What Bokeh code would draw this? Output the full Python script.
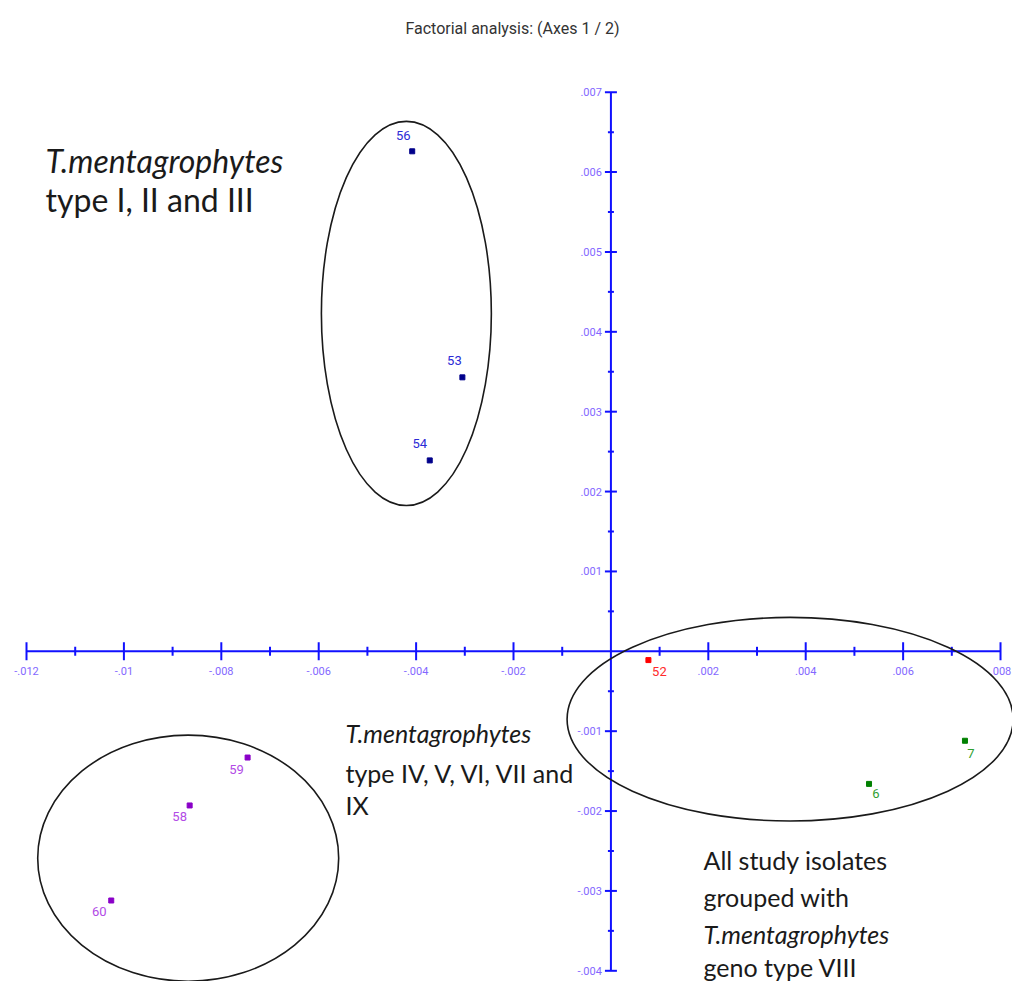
from bokeh.plotting import figure
from bokeh.models import Range1d, ColumnDataSource
from bokeh.core.properties import value
from bokeh.embed import file_html
from bokeh.resources import INLINE

# ---------------- data ----------------
ids = ["56", "53", "54", "52", "6", "7", "59", "58", "60"]
xs = [-0.00408, -0.00305, -0.00372, 0.00077, 0.00530, 0.00727, -0.00746, -0.00865, -0.01026]
ys = [0.00626, 0.00343, 0.00239, -0.00011, -0.00166, -0.00112, -0.00133, -0.00193, -0.00312]
dot_colors = ["#00008b", "#00008b", "#00008b", "#ff0000", "#008000", "#008000", "#8a00c8", "#8a00c8", "#8a00c8"]
lab_colors = ["#2b2bd6", "#2b2bd6", "#2b2bd6", "#ff2a2a", "#30a030", "#30a030", "#b24be6", "#b24be6", "#b24be6"]
lab_dx = [-9, -8, -10, 11, 7, 6, -11, -10, -12]
lab_dy = [-16, -17, -17, 11, 10, 13, 12, 11, 11]

x_ticks = [-0.012, -0.010, -0.008, -0.006, -0.004, -0.002, 0.002, 0.004, 0.006, 0.008]
x_tick_labels = ["-.012", "-.01", "-.008", "-.006", "-.004", "-.002", ".002", ".004", ".006", ".008"]
x_minor = [-0.011, -0.009, -0.007, -0.005, -0.003, -0.001, 0.001, 0.003, 0.005, 0.007]
y_ticks = [0.007, 0.006, 0.005, 0.004, 0.003, 0.002, 0.001, -0.001, -0.002, -0.003, -0.004]
y_tick_labels = [".007", ".006", ".005", ".004", ".003", ".002", ".001", "-.001", "-.002", "-.003", "-.004"]
y_minor = [0.0065, 0.0055, 0.0045, 0.0035, 0.0025, 0.0015, 0.0005, -0.0005, -0.0015, -0.0025, -0.0035]

# group ellipses (center x, center y, width, height)
ell_x = [-0.00420, 0.00368, -0.00868]
ell_y = [0.00423, -0.00085, -0.00259]
ell_w = [0.00349, 0.00916, 0.00618]
ell_h = [0.00481, 0.00255, 0.00308]

TITLE = "Factorial analysis: (Axes 1 / 2)"

# ---------------- figure ----------------
W, H = 1012, 981
X0, X1 = -0.012534, 0.008246
Y0, Y1 = -0.004134, 0.008148
sx = W / (X1 - X0)
sy = H / (Y1 - Y0)

def px(v):
    return X0 + v / sx

def py(v):
    return Y1 - v / sy

p = figure(width=W, height=H, output_backend="svg", toolbar_location=None,
           x_range=Range1d(X0, X1), y_range=Range1d(Y0, Y1),
           x_axis_location=None, y_axis_location=None, min_border=0)
p.grid.visible = False
p.outline_line_color = None
p.background_fill_color = "white"
p.border_fill_color = "white"

NARROW = value("Roboto")
AX = "#1010ff"
TICKC = "#8468ff"

# axes lines
p.segment(x0=[x_ticks[0]], y0=[0], x1=[x_ticks[-1]], y1=[0], line_color=AX, line_width=2)
p.segment(x0=[0], y0=[y_ticks[-1]], x1=[0], y1=[y_ticks[0]], line_color=AX, line_width=2)
# ticks
p.scatter(x=x_ticks, y=[0] * len(x_ticks), marker="dash", angle=1.5708, size=18, line_color=AX, line_width=2)
p.scatter(x=x_minor, y=[0] * len(x_minor), marker="dash", angle=1.5708, size=9, line_color=AX, line_width=2)
p.scatter(x=[0] * len(y_ticks), y=y_ticks, marker="dash", size=12, line_color=AX, line_width=2)
p.scatter(x=[0] * len(y_minor), y=y_minor, marker="dash", size=6, line_color=AX, line_width=2)
# tick labels
p.text(x=x_ticks, y=[0] * len(x_ticks), text=x_tick_labels, text_align="center", text_baseline="middle",
       y_offset=20, text_font=NARROW, text_font_size="11px", text_color=TICKC)
p.text(x=[0] * len(y_ticks), y=y_ticks, text=y_tick_labels, text_align="right", text_baseline="middle",
       x_offset=-9, text_font=NARROW, text_font_size="11px", text_color=TICKC)

# ellipses
p.ellipse(x=ell_x, y=ell_y, width=ell_w, height=ell_h, fill_color=None, line_color="#1a1a1a", line_width=1.6)

# points and labels
src = ColumnDataSource(dict(x=xs, y=ys, id=ids, dc=dot_colors, lc=lab_colors, dx=lab_dx, dy=lab_dy))
p.scatter(x="x", y="y", source=src, marker="square", size=5, fill_color="dc", line_color="dc")
p.text(x="x", y="y", text="id", source=src, x_offset="dx", y_offset="dy", text_align="center",
       text_baseline="middle", text_font=NARROW, text_font_size="13px", text_color="lc")

# title
p.text(x=[px(512)], y=[py(28)], text=[TITLE], text_align="center", text_baseline="middle",
       text_font=NARROW, text_font_size="16px", text_color="#333333")

# group annotations
FONT = value("Lato")
def note(x, y, s, size, italic=False):
    p.text(x=[px(x)], y=[py(y)], text=[s], text_align="left", text_baseline="middle",
           text_font=FONT, text_font_size=size, text_color="#1a1a1a",
           text_font_style="italic" if italic else "normal")

note(45, 160, "T.mentagrophytes", "32px", True)
note(45, 199, "type I, II and III", "32px")
note(345, 732, "T.mentagrophytes", "25px", True)
note(345, 772, "type IV, V, VI, VII and", "25px")
note(345, 804, "IX", "25px")
note(703, 859, "All study isolates", "25px")
note(703, 896, "grouped with", "25px")
note(703, 933, "T.mentagrophytes", "25px", True)
note(703, 966, "geno type VIII", "25px")

open("out.html", "w").write(file_html(p, INLINE))
